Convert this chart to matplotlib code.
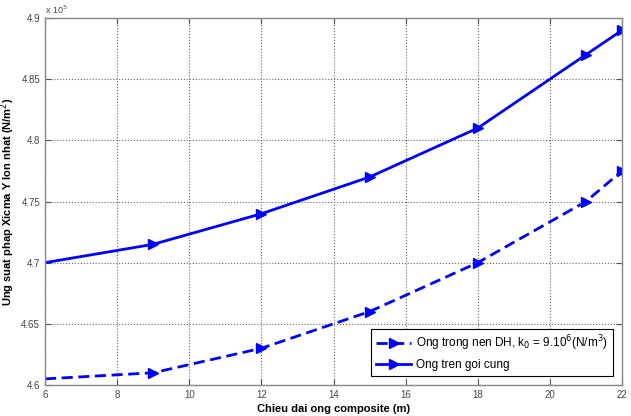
import matplotlib
matplotlib.use("Agg")
import matplotlib.pyplot as plt
from matplotlib.lines import Line2D

plt.rcParams['font.family'] = ['Liberation Sans', 'DejaVu Sans']

x = [6, 9, 12, 15, 18, 21, 22]
dh = [4.605e5, 4.61e5, 4.63e5, 4.66e5, 4.70e5, 4.75e5, 4.775e5]
cung = [4.70e5, 4.715e5, 4.74e5, 4.77e5, 4.81e5, 4.87e5, 4.89e5]
xticks = [6, 8, 10, 12, 14, 16, 18, 20, 22]
yticks = [4.6e5, 4.65e5, 4.7e5, 4.75e5, 4.8e5, 4.85e5, 4.9e5]
labels = [r'Ong trong nen DH, k$_0$ = 9.10$^6$(N/m$^3$)', 'Ong tren goi cung']

fig = plt.figure(figsize=(6.31, 4.16), dpi=100)
ax = fig.add_axes([45/631, 1-385/416, (622-45)/631, (385-18)/416])

dash = (0, (4, 2))
ax.plot(x, dh, color='#0000ff', lw=2, ls=dash, marker='>', ms=7,
        markevery=[1, 2, 3, 4, 5, 6])
ax.plot(x, cung, color='#0000ff', lw=2, ls='-', marker='>', ms=7,
        markevery=[1, 2, 3, 4, 5, 6])

handles = [Line2D([], [], color='#0000ff', lw=2, ls=dash, marker='>', ms=7),
           Line2D([], [], color='#0000ff', lw=2, ls='-', marker='>', ms=7)]

ax.set_xlim(6, 22)
ax.set_ylim(4.6e5, 4.9e5)
ax.set_xticks(xticks)
ax.set_xticklabels([str(v) for v in xticks])
ax.set_yticks(yticks)
ax.set_yticklabels(['4.6', '4.65', '4.7', '4.75', '4.8', '4.85', '4.9'])
ax.tick_params(labelsize=7, colors='#555555', direction='in', length=4,
               top=True, right=True)
ax.tick_params(labelcolor='#444444')
ax.grid(True, ls=':', color='#666666', lw=0.8)
for s in ax.spines.values():
    s.set_color('#888888')
    s.set_linewidth(1)

ax.text(0.0, 1.005, r'x 10$^5$', transform=ax.transAxes, fontsize=6.5,
        color='#444444', va='bottom', ha='left')

ax.set_xlabel('Chieu dai ong composite (m)', fontsize=8, fontweight='bold', labelpad=3)
ax.set_ylabel(r'Ung suat phap Xicma Y lon nhat (N/m$^2$)', fontsize=8,
              fontweight='bold')
ax.yaxis.set_label_coords(-0.048, 0.5)

leg = ax.legend(handles, labels, loc='lower right', fontsize=8.5, fancybox=False,
                framealpha=1, edgecolor='black', handlelength=3,
                numpoints=1, borderaxespad=0.8, handletextpad=0.4)
leg.get_frame().set_linewidth(0.8)

fig.savefig('out.png', dpi=100)
